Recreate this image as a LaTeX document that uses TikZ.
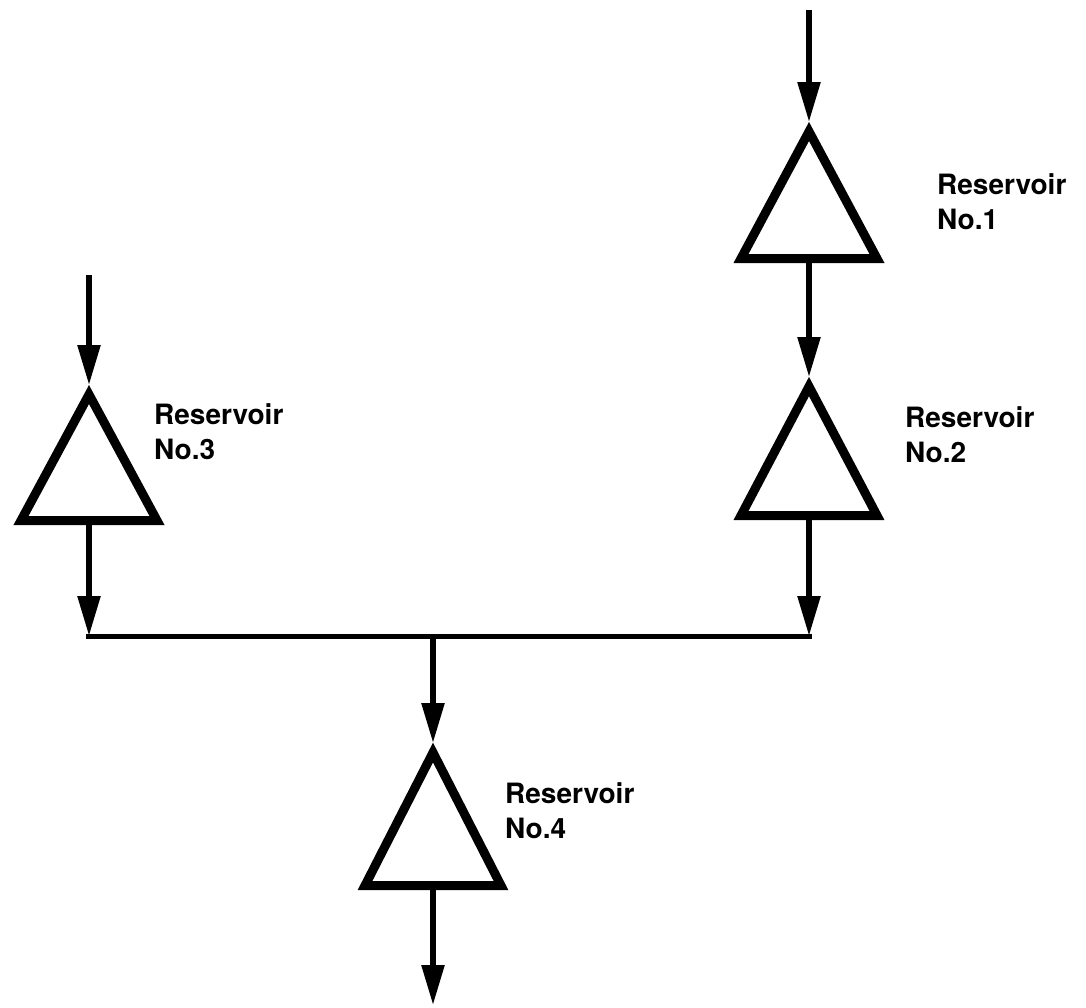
\documentclass[tikz,border=0pt]{standalone}
\usepackage{fontspec}
\setsansfont{TeX Gyre Heros}
\usetikzlibrary{arrows.meta}
\begin{document}
\begin{tikzpicture}[x=1pt,y=-1pt,
  flow/.style={line width=5.5pt,-{Triangle[length=40pt,width=22pt]}},
  pipe/.style={line width=5pt},
  reservoir/.style={draw,line width=9pt,line join=miter},
  lbl/.style={anchor=north west,inner sep=0pt,align=left,
    font=\sffamily\bfseries\fontsize{28}{35}\selectfont}]
\useasboundingbox (0,0) rectangle (1086,1007);
% reservoirs (centre-line triangles)
\draw[reservoir] (809,131.5) -- (877,258.5) -- (741,258.5) -- cycle;
\draw[reservoir] (809,386.5) -- (877,515.5) -- (741,515.5) -- cycle;
\draw[reservoir] (89,394.5) -- (157,520.5) -- (21,520.5) -- cycle;
\draw[reservoir] (433,752.5) -- (501,885.5) -- (365,885.5) -- cycle;
% named points
\coordinate (in1) at (809,10);
\coordinate (r1a) at (809,122);
\coordinate (r1b) at (809,263);
\coordinate (r2a) at (809,377);
\coordinate (r2b) at (809,520);
\coordinate (in3) at (89,275);
\coordinate (r3a) at (89,385);
\coordinate (r3b) at (89,525);
\coordinate (jl) at (89,636);
\coordinate (jr) at (809,636);
\coordinate (jm) at (433,636);
\coordinate (r4a) at (433,743);
\coordinate (r4b) at (433,890);
\coordinate (out) at (433,1005);
% connectors
\draw[flow] (in1) -- (r1a);
\draw[flow] (r1b) -- (r2a);
\draw[flow] (in3) -- (r3a);
\draw[flow] (r3b) -- (jl);
\draw[flow] (r2b) -- (jr);
\draw[pipe] ([xshift=-2.75pt]jl) -- ([xshift=2.75pt]jr);
\draw[flow] (jm) -- (r4a);
\draw[flow] (r4b) -- (out);
% labels
\node[lbl] (l1) at (937,173) {Reservoir\\No.1};
\node[lbl] (l2) at (905,406) {Reservoir\\No.2};
\node[lbl] (l3) at (154,403) {Reservoir\\No.3};
\node[lbl] (l4) at (505,782) {Reservoir\\No.4};
\end{tikzpicture}
\end{document}
